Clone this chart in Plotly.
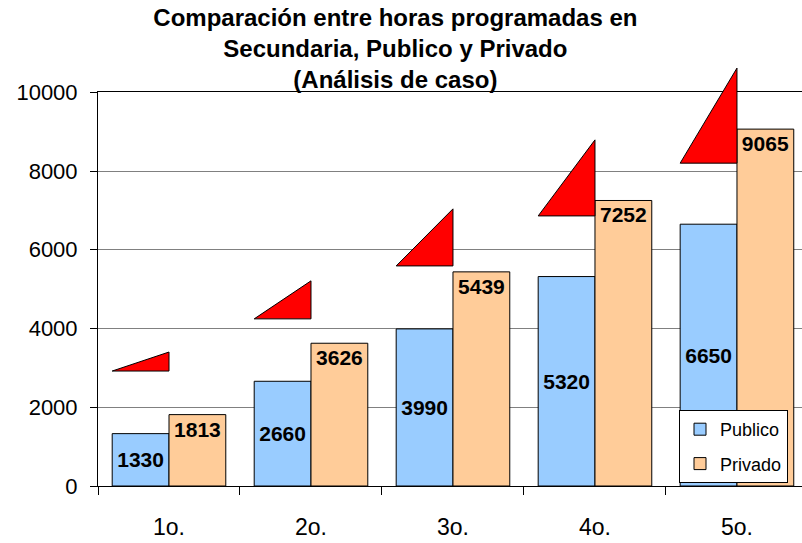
import plotly.graph_objects as go

categories = ["1o.", "2o.", "3o.", "4o.", "5o."]
publico = [1330, 2660, 3990, 5320, 6650]
privado = [1813, 3626, 5439, 7252, 9065]
# red wedge markers: base level and height = privado - publico
wedge_base = [2920, 4245, 5590, 6860, 8200]
wedge_height = [p - q for p, q in zip(privado, publico)]
y_ticks = [0, 2000, 4000, 6000, 8000, 10000]
y_tick_labels = ["0", "2000", "4000", "6000", "8000", "10000"]

FONT = "Liberation Sans, Arial, sans-serif"
BLUE = "#99CCFF"
ORANGE = "#FFCC99"

idx = list(range(len(categories)))
BAR_W = 0.4

fig = go.Figure()
fig.add_trace(go.Bar(
    x=idx, y=publico, name="Publico", marker=dict(color=BLUE, line=dict(color="black", width=1)),
    text=[str(v) for v in publico], textposition="inside", insidetextanchor="middle",
    textfont=dict(family=FONT, size=21, color="black", weight="bold"), textangle=0,
    xaxis="x", yaxis="y", legendgroup="a",
))
fig.add_trace(go.Bar(
    x=idx, y=privado, name="Privado", marker=dict(color=ORANGE, line=dict(color="black", width=1)),
    text=[str(v) for v in privado], textposition="inside", insidetextanchor="end",
    textfont=dict(family=FONT, size=21, color="black", weight="bold"), textangle=0,
    xaxis="x", yaxis="y", legendgroup="b",
))

# triangles on an overlay subplot that reaches above the plot frame
for i, b, h in zip(idx, wedge_base, wedge_height):
    fig.add_trace(go.Scatter(
        x=[i - BAR_W, i, i, i - BAR_W], y=[b, b, b + h, b],
        mode="lines", fill="toself", fillcolor="#FF0000",
        line=dict(color="black", width=1), showlegend=False, hoverinfo="skip",
        xaxis="x2", yaxis="y2",
    ))

T, B = 20, 57
plot_h = 543 - T - B
main_top_px = 92.3
dom_top = (486 - main_top_px) / plot_h

xr = [-0.5, 4.458]
fig.update_layout(
    width=802, height=543,
    margin=dict(l=98, r=0, t=T, b=B, autoexpand=False),
    paper_bgcolor="white", plot_bgcolor="rgba(0,0,0,0)",
    barmode="group", bargap=0.2, bargroupgap=0,
    uniformtext=dict(minsize=21, mode="show"),
    title=dict(
        text="Comparación entre horas programadas en<br>Secundaria, Publico y Privado<br>(Análisis de caso)",
        x=0.493, xanchor="center", xref="container", y=1 - 26 / 543, yanchor="middle", yref="container",
        font=dict(family=FONT, size=24, color="black", weight="bold"),
    ),
    xaxis=dict(
        domain=[0, 1], range=xr, anchor="y", automargin=False,
        tickmode="array", tickvals=idx, ticktext=categories,
        ticks="outside", ticklen=20, tickcolor="rgba(0,0,0,0)",
        tickfont=dict(family=FONT, size=23, color="black"),
        showline=True, linecolor="black", linewidth=1, mirror=True,
        showgrid=False, zeroline=False,
        minor=dict(tickmode="array", tickvals=[-0.5, 0.5, 1.5, 2.5, 3.5], ticks="outside",
                   ticklen=8, tickcolor="black", showgrid=False),
    ),
    yaxis=dict(
        domain=[0, dom_top], range=[0, 10000], anchor="x", automargin=False,
        tickmode="array", tickvals=y_ticks, ticktext=y_tick_labels,
        ticks="outside", ticklen=7, tickcolor="black",
        tickfont=dict(family=FONT, size=22, color="black"),
        ticklabelstandoff=8,
        showline=True, linecolor="black", linewidth=1,
        showgrid=True, gridcolor="#808080", gridwidth=1, zeroline=False,
    ),
    xaxis2=dict(domain=[0, 1], range=xr, anchor="y2", visible=False, showgrid=False, automargin=False),
    yaxis2=dict(domain=[0, 1], range=[0, 10000 / dom_top], anchor="x2", visible=False, showgrid=False, automargin=False),
    legend=dict(
        x=(679 - 98) / 704, xanchor="left", y=(486 - 483) / (486 - main_top_px) * dom_top, yanchor="bottom",
        bgcolor="white", bordercolor="black", borderwidth=1,
        font=dict(family=FONT, size=18, color="black"),
        traceorder="grouped", tracegroupgap=8,
    ),
    showlegend=True,
)

fig.write_html("out.html", config={"displayModeBar": False},
               post_script="document.body.style.margin='0';")
